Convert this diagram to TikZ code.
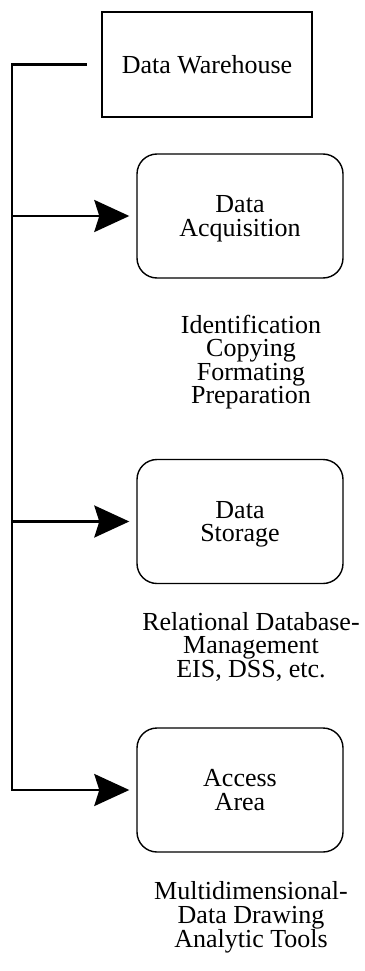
\documentclass[tikz,border=0pt]{standalone}
\usepackage{fontspec}
\setmainfont{Liberation Serif}
\usetikzlibrary{arrows.meta}

\begin{document}
\begin{tikzpicture}[x=1pt,y=-1pt,
    txt/.style={font=\fontsize{26}{23.5}\selectfont, align=center, inner sep=0pt},
    stage/.style={txt, draw, line width=1.4pt, rounded corners=20pt,
        minimum width=206pt, minimum height=124pt, text depth=0pt},
    bus/.style={line width=2.6pt},
    feed/.style={bus, -{Stealth[length=35pt,width=32pt,inset=5pt]}, shorten >=7pt}]
\useasboundingbox (0,0) rectangle (364,971);

% the warehouse and its three parts
\node[txt, draw, line width=2.6pt, minimum width=210pt, minimum height=105pt]
    (dw) at (207,64.5) {Data Warehouse};
\node[stage] (acq) at (240,216)   {Data\\Acquisition};
\node[stage] (sto) at (240,521.5) {Data\\Storage};
\node[stage] (acc) at (240,790)   {Access\\Area};

% what each part does
\node[txt] (acqtasks) at (251,362)   {Identification\\Copying\\Formating\\Preparation};
\node[txt] (stotasks) at (251,646.5) {Relational Database-\\Management\\EIS, DSS, etc.};
\node[txt] (acctasks) at (251,917.5) {Multidimensional-\\Data Drawing\\Analytic Tools};

% the bus on the left, feeding each part
\coordinate (rail) at (12,0);
\draw[feed, shorten <=14pt] (dw.west) -| (rail |- acc.west) -- (acc.west);
\draw[feed] (rail |- acq.west) -- (acq.west);
\draw[feed] (rail |- sto.west) -- (sto.west);

\end{tikzpicture}
\end{document}
